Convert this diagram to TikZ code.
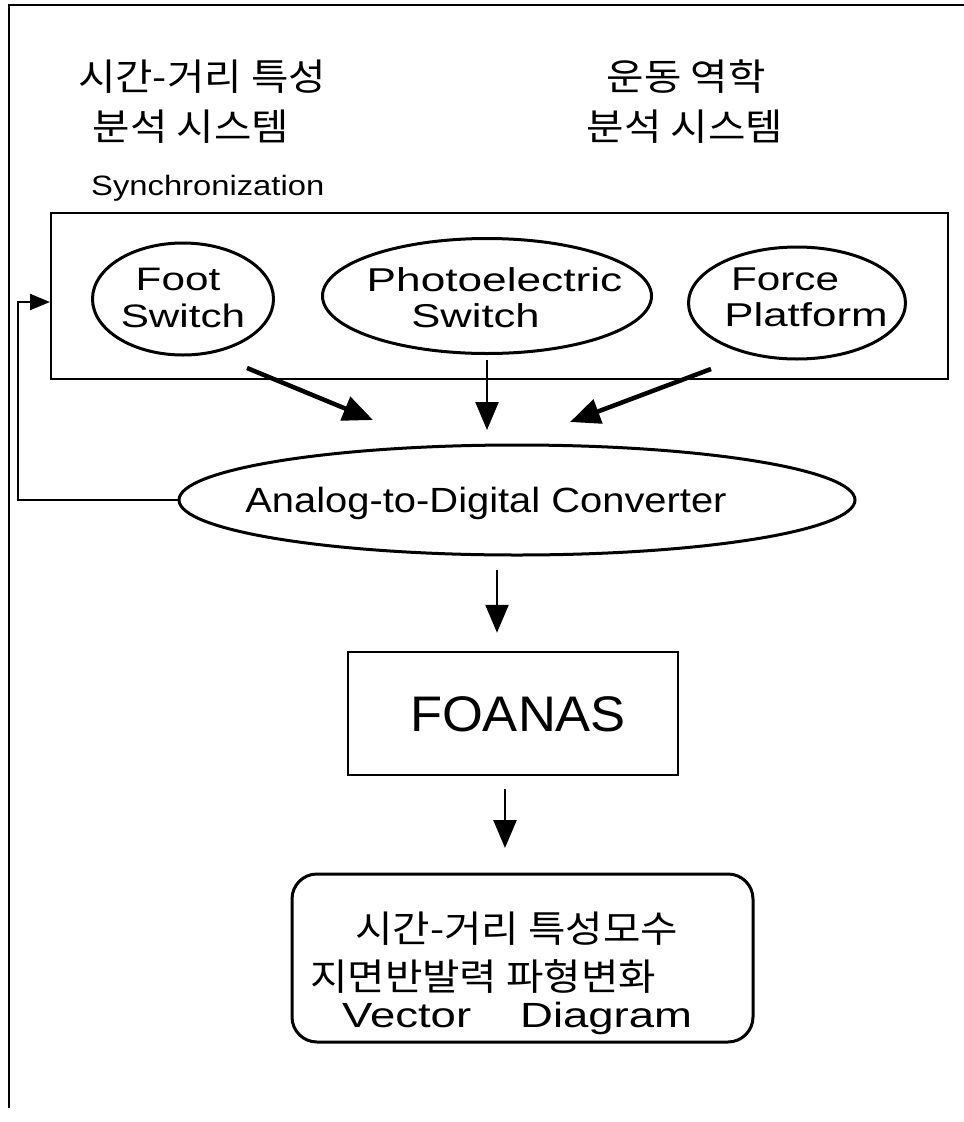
\documentclass[tikz,border=0pt]{standalone}
\usepackage{fontspec}
\usepackage{graphicx}
\setmainfont{Liberation Sans}
\newfontfamily\kr{Noto Sans CJK KR}
\usetikzlibrary{shapes.geometric,arrows.meta,calc}
\newcommand\wx[2]{\scalebox{#1}[1]{#2}}
\newcommand\fs[1]{\fontsize{#1}{#1}\selectfont}
\newcommand\kt[1]{\scalebox{1.1}[1]{#1}}
\begin{document}
\begin{tikzpicture}[x=1pt,y=-1pt,
  txt/.style={inner sep=0pt, anchor=base},
  krtxt/.style={inner sep=0pt, font=\kr\fs{37}},
  oval/.style={draw, ellipse, line width=3pt, inner sep=0pt},
  box/.style={draw, rectangle, inner sep=0pt},
  thickarr/.style={line width=4.5pt, -{Triangle[length=30pt,width=25pt]}},
  arr/.style={line width=2.5pt, -{Triangle[length=28pt,width=23pt]}},
  fbline/.style={line width=2pt, -{Triangle[length=20pt,width=16pt]}}
]
\useasboundingbox (0,0) rectangle (964,1122);
\fill[white] (0,0) rectangle (964,1122);
\draw[line width=2pt] (964,5) -- (9,5) -- (9,1108);

% headings
\node[krtxt] (h1a) at (202,77) {\kt{시간-거리 특성}};
\node[krtxt] (h1b) at (191,127) {\kt{분석 시스템}};
\node[krtxt] (h2a) at (686,77) {\kt{운동 역학}};
\node[krtxt] (h2b) at (685,127) {\kt{분석 시스템}};
\node[txt, anchor=base west, font=\fs{28}] (syn) at (91,195) {\wx{1.17}{Synchronization}};

% synchronization box and sensors
\node[box, line width=2pt, minimum width=897pt, minimum height=166pt] (sync) at (499.5,296) {};
\node[oval, minimum width=181pt, minimum height=112pt] (foot) at (183,299) {};
\node[oval, minimum width=329pt, minimum height=115pt] (photo) at (487,296) {};
\node[oval, minimum width=217pt, minimum height=112pt] (force) at (797,303) {};
\node[txt, font=\fs{32.5}] (foota) at (178,290) {\wx{1.3}{Foot}};
\node[txt, font=\fs{32.5}] (footb) at (183,327) {\wx{1.3}{Switch}};
\node[txt, font=\fs{33}] (photoa) at (494.5,291) {\wx{1.34}{Photoelectric}};
\node[txt, font=\fs{33}] (photob) at (475.5,327) {\wx{1.32}{Switch}};
\node[txt, font=\fs{33}] (forcea) at (785,290) {\wx{1.28}{Force}};
\node[txt, font=\fs{33}] (forceb) at (806,326) {\wx{1.33}{Platform}};

% converter
\node[oval, minimum width=676pt, minimum height=110pt] (adc) at (517,500) {};
\node[txt, font=\fs{35}] (adct) at (486,512) {\wx{1.14}{Analog-to-Digital Converter}};

% FOANAS
\node[box, line width=2.5pt, minimum width=330pt, minimum height=123pt] (foanas) at (513,713.5) {};
\node[txt, font=\fs{50}] (foanast) at (518,731) {\wx{1.05}{FOANAS}};

% results
\node[box, rounded corners=25pt, line width=3pt, minimum width=461pt, minimum height=168pt] (res) at (522.5,958) {};
\node[krtxt, anchor=west] (r1) at (355,929) {\kt{시간-거리 특성모수}};
\node[krtxt, anchor=west] (r2) at (310,977) {\kt{지면반발력 파형변화}};
\node[txt, anchor=base west, font=\fs{35}] (r3) at (342,1027) {\wx{1.3}{Vector\hspace{28pt} Diagram}};

% arrows
\coordinate (f1) at (247,368);
\coordinate (f2) at (373,420);
\draw[thickarr] (f1) -- (f2);
\coordinate (g1) at (711,369);
\coordinate (g2) at (570,422);
\draw[thickarr] (g1) -- (g2);
\draw[arr, shorten <=5pt, shorten >=13.5pt] (photo.south) -- (photo.south |- adc.north);
\coordinate (ax) at (497,0);
\draw[arr, shorten <=13.5pt, shorten >=18pt] (adc.south -| ax) -- (foanas.north -| ax);
\coordinate (bx) at (505,0);
\draw[arr, shorten <=13pt, shorten >=24.5pt] (foanas.south -| bx) -- (res.north -| bx);

% feedback
\coordinate (fbc) at (18,302);
\draw[fbline] (adc.west) -| (fbc) -- (fbc -| sync.west);
\end{tikzpicture}
\end{document}
